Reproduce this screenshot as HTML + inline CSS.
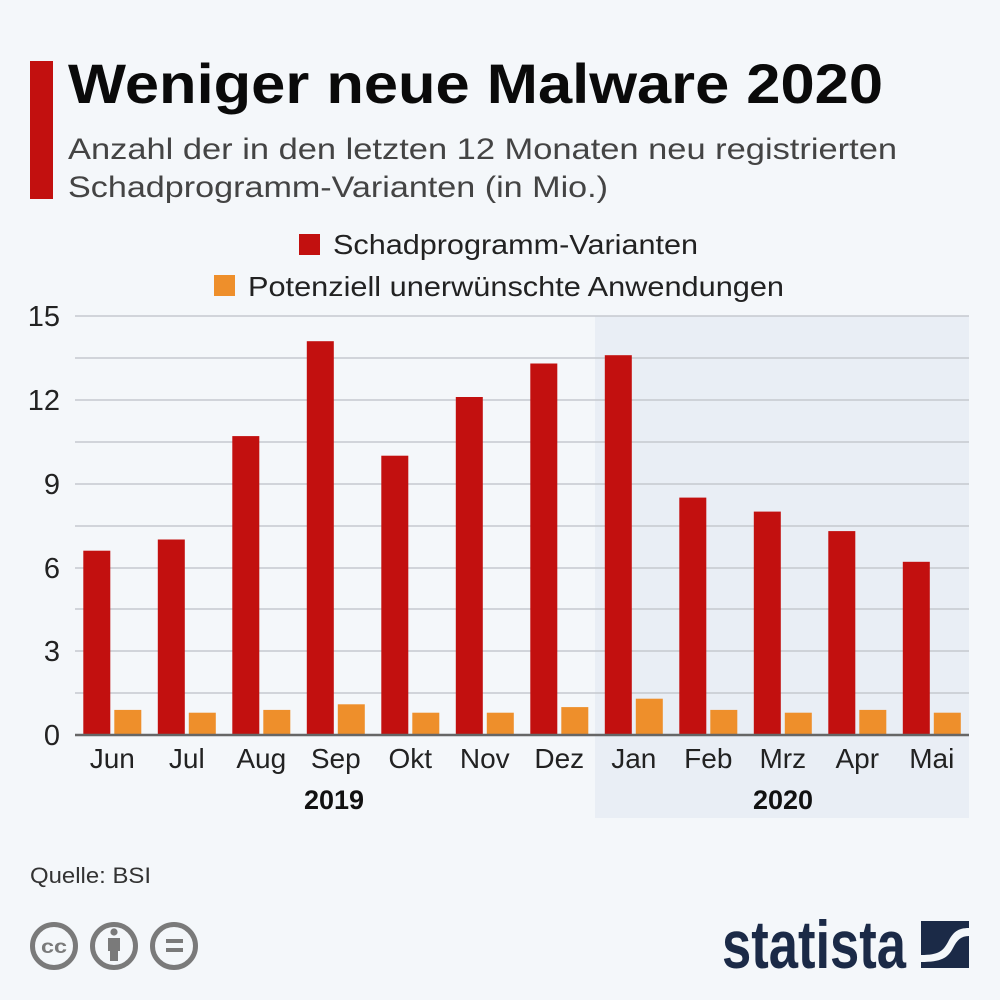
<!DOCTYPE html>
<html><head><meta charset="utf-8"><style>
html,body{margin:0;padding:0;background:#f4f7fa;}
svg{display:block;}
text{font-family:"Liberation Sans",sans-serif;}
</style></head><body>
<svg width="1000" height="1000" viewBox="0 0 1000 1000" xmlns="http://www.w3.org/2000/svg">
<rect x="0" y="0" width="1000" height="1000" fill="#f4f7fa"/>
<rect x="30" y="61" width="23" height="138" fill="#c2100f"/>
<text x="68" y="103" font-size="56" font-weight="bold" fill="#0a0a0a" textLength="815" lengthAdjust="spacingAndGlyphs">Weniger neue Malware 2020</text>
<text x="68" y="159" font-size="30" fill="#444" textLength="829" lengthAdjust="spacingAndGlyphs">Anzahl der in den letzten 12 Monaten neu registrierten</text>
<text x="68" y="197" font-size="30" fill="#444" textLength="540" lengthAdjust="spacingAndGlyphs">Schadprogramm-Varianten (in Mio.)</text>

<rect x="299" y="234" width="21" height="21" fill="#c2100f"/>
<text x="333" y="254" font-size="28" fill="#222" textLength="365" lengthAdjust="spacingAndGlyphs">Schadprogramm-Varianten</text>
<rect x="214" y="275" width="21" height="21" fill="#ee8f2b"/>
<text x="248" y="296" font-size="28" fill="#222" textLength="536" lengthAdjust="spacingAndGlyphs">Potenziell unerwünschte Anwendungen</text>

<rect x="595" y="316" width="374" height="502" fill="#e9eef5"/>

<g stroke="#c5c9cf" stroke-width="1.5">
<line x1="75" y1="316" x2="969" y2="316"/>
<line x1="75" y1="358" x2="969" y2="358"/>
<line x1="75" y1="400" x2="969" y2="400"/>
<line x1="75" y1="442" x2="969" y2="442"/>
<line x1="75" y1="484" x2="969" y2="484"/>
<line x1="75" y1="526" x2="969" y2="526"/>
<line x1="75" y1="568" x2="969" y2="568"/>
<line x1="75" y1="609" x2="969" y2="609"/>
<line x1="75" y1="651" x2="969" y2="651"/>
<line x1="75" y1="693" x2="969" y2="693"/>
</g>

<g font-size="29" fill="#222" text-anchor="end">
<text x="60" y="326">15</text>
<text x="60" y="410">12</text>
<text x="60" y="494">9</text>
<text x="60" y="578">6</text>
<text x="60" y="661">3</text>
<text x="60" y="745">0</text>
</g>

<g fill="#c2100f">
<rect x="83.3" y="550.7" width="27" height="184.3"/>
<rect x="157.8" y="539.5" width="27" height="195.5"/>
<rect x="232.3" y="436.1" width="27" height="298.9"/>
<rect x="306.8" y="341.2" width="27" height="393.8"/>
<rect x="381.3" y="455.7" width="27" height="279.3"/>
<rect x="455.8" y="397.0" width="27" height="338.0"/>
<rect x="530.3" y="363.5" width="27" height="371.5"/>
<rect x="604.8" y="355.2" width="27" height="379.8"/>
<rect x="679.3" y="497.6" width="27" height="237.4"/>
<rect x="753.8" y="511.6" width="27" height="223.4"/>
<rect x="828.3" y="531.1" width="27" height="203.9"/>
<rect x="902.8" y="561.8" width="27" height="173.2"/>
</g>
<g fill="#ee8f2b">
<rect x="114.3" y="709.9" width="27" height="25.1"/>
<rect x="188.8" y="712.7" width="27" height="22.3"/>
<rect x="263.3" y="709.9" width="27" height="25.1"/>
<rect x="337.8" y="704.3" width="27" height="30.7"/>
<rect x="412.3" y="712.7" width="27" height="22.3"/>
<rect x="486.8" y="712.7" width="27" height="22.3"/>
<rect x="561.3" y="707.1" width="27" height="27.9"/>
<rect x="635.8" y="698.7" width="27" height="36.3"/>
<rect x="710.3" y="709.9" width="27" height="25.1"/>
<rect x="784.8" y="712.7" width="27" height="22.3"/>
<rect x="859.3" y="709.9" width="27" height="25.1"/>
<rect x="933.8" y="712.7" width="27" height="22.3"/>
</g>

<line x1="75" y1="735" x2="969" y2="735" stroke="#666" stroke-width="2.5"/>

<g font-size="28" fill="#222" text-anchor="middle">
<text x="112.3" y="768">Jun</text>
<text x="186.8" y="768">Jul</text>
<text x="261.3" y="768">Aug</text>
<text x="335.8" y="768">Sep</text>
<text x="410.3" y="768">Okt</text>
<text x="484.8" y="768">Nov</text>
<text x="559.3" y="768">Dez</text>
<text x="633.8" y="768">Jan</text>
<text x="708.3" y="768">Feb</text>
<text x="782.8" y="768">Mrz</text>
<text x="857.3" y="768">Apr</text>
<text x="931.8" y="768">Mai</text>
</g>
<g font-size="27" font-weight="bold" fill="#111" text-anchor="middle">
<text x="334" y="809">2019</text>
<text x="783" y="809">2020</text>
</g>

<text x="30" y="883" font-size="22" fill="#333" textLength="121" lengthAdjust="spacingAndGlyphs">Quelle: BSI</text>

<g stroke="#7a7a7a" stroke-width="5" fill="none">
<circle cx="54" cy="946" r="21.5"/>
<circle cx="114" cy="946" r="21.5"/>
<circle cx="174" cy="946" r="21.5"/>
</g>
<text x="54" y="953" font-size="19" font-weight="bold" fill="#7a7a7a" text-anchor="middle" textLength="26" lengthAdjust="spacingAndGlyphs">cc</text>
<circle cx="114" cy="932" r="3.6" fill="#7a7a7a"/>
<rect x="108" y="938" width="12" height="13" fill="#7a7a7a"/>
<rect x="110" y="950" width="8" height="11" fill="#7a7a7a"/>
<rect x="166" y="939" width="17" height="4" fill="#7a7a7a"/>
<rect x="166" y="948" width="17" height="4" fill="#7a7a7a"/>

<text x="722" y="968" font-size="68" font-weight="bold" fill="#1b2a47" textLength="184" lengthAdjust="spacingAndGlyphs">statista</text>
<g transform="translate(921,921)">
<rect x="0" y="0" width="48" height="47" fill="#1b2a47"/>
<path d="M0,34 C18,34 22,30 27,21 C32,11 37,7 48,7 L48,15 C40,15 36,19 32,27 C27,37 20,41 0,41 Z" fill="#f4f7fa"/>
</g>
</svg>
</body></html>
